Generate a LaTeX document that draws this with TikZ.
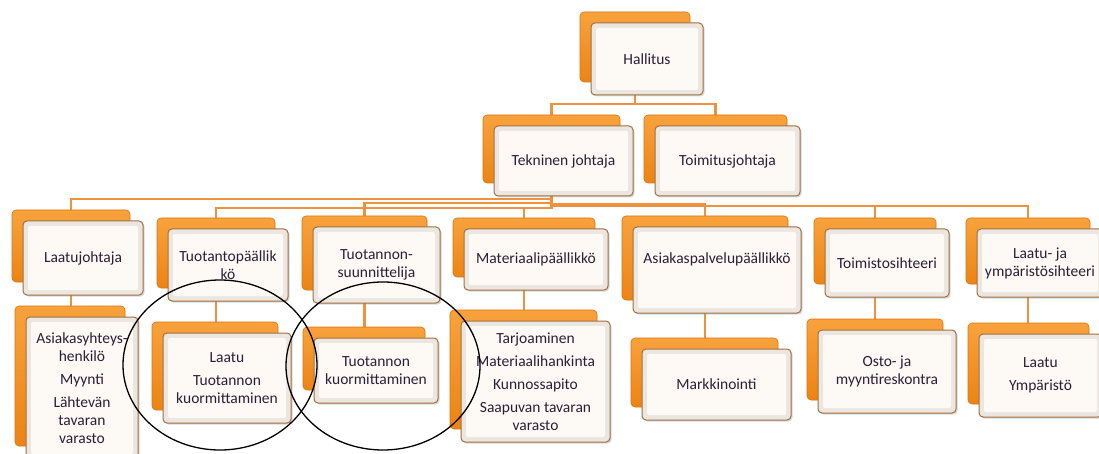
\documentclass[tikz,border=0pt]{standalone}
\usepackage{fontspec}
\setmainfont{Carlito}
\usetikzlibrary{backgrounds,shadows,shapes.geometric}

\definecolor{orgline}{HTML}{EE9240}
\definecolor{orangetop}{HTML}{F8A23C}
\definecolor{orangebot}{HTML}{EC8414}
\definecolor{orangeedge}{HTML}{DB7410}
\definecolor{cardedge}{HTML}{A0703F}
\definecolor{cardbevel}{HTML}{ECE6E1}
\definecolor{cardface}{HTML}{FDF9F5}
\definecolor{inktext}{HTML}{2A1F35}

\tikzset{
  backbox/.style={rectangle, rounded corners=4pt, draw=orangeedge, line width=0.6pt,
    top color=orangetop, bottom color=orangebot, inner sep=0pt},
  cardtext/.style={text=inktext, font=\fontsize{15.5}{18}\selectfont, align=center},
  frontbox/.style={rectangle, rounded corners=4pt, draw=cardedge, line width=1pt,
    fill=cardbevel, inner sep=0pt, cardtext,
    drop shadow={shadow xshift=1.5pt, shadow yshift=-1.5pt, opacity=0.3},
    path picture={\fill[cardface, rounded corners=2pt]
      ([shift={(5pt,-5pt)}]path picture bounding box.north west) rectangle
      ([shift={(-5pt,5pt)}]path picture bounding box.south east);}},
  conn/.style={draw=orgline, line width=2.2pt},
  focus/.style={ellipse, draw=black, line width=1.3pt, inner sep=0pt},
}

% orange card behind, cream card in front: name, x1, y1, x2, y2 (back card), text
\newcommand\orgpair[6]{%
  \node[backbox, minimum width={#4-#2}, minimum height={#5-#3}] (#1-b)
    at ({(#2+#4)/2},{(#3+#5)/2}) {};
  \node[frontbox, minimum width={#4-#2+2}, minimum height={#5-#3+2}] (#1)
    at ({(#2+#4)/2+12},{(#3+#5)/2+12}) {#6};
}

\begin{document}
\begin{tikzpicture}[x=1pt, y=-1pt]
\useasboundingbox (0,0) rectangle (1099,454);

% top levels
\orgpair{hal}{580}{12}{690}{82}{Hallitus}
\orgpair{tek}{483}{115}{620}{183}{Tekninen johtaja}
\orgpair{toi}{644}{115}{787}{183}{Toimitusjohtaja}

% third level
\orgpair{laa}{12}{210}{130}{282}{Laatujohtaja}
\orgpair{tpa}{157}{218}{275}{288}{Tuotantopäällik\\kö}
\orgpair{tsu}{302}{216}{427}{290}{Tuotannon-\\suunnittelija}
\orgpair{mat}{453}{218}{595}{277}{Materiaalipäällikkö}
\orgpair{asp}{622}{216}{788}{300}{}
\node[cardtext] (asp-t) at (717,259) {Asiakaspalvelupäällikkö};
\orgpair{tsi}{814}{218}{936}{284}{Toimistosihteeri}
\orgpair{lys}{966}{218}{1090}{284}{Laatu- ja\\ympäristösihteeri}

% fourth level
\orgpair{asy}{15}{306}{125}{446}{Asiakasyhteys-\\henkilö\\[5pt]Myynti\\[5pt]Lähtevän\\tavaran\\varasto}
\orgpair{lau}{152}{322}{278}{410}{Laatu\\[5pt]Tuotannon\\kuormittaminen}
\orgpair{tku}{303}{327}{425}{390}{Tuotannon\\kuormittaminen}
\orgpair{mli}{450}{310}{597}{429}{Tarjoaminen\\[5pt]Materiaalihankinta\\[5pt]Kunnossapito\\[5pt]Saapuvan tavaran\\varasto}
\orgpair{mar}{631}{338}{778}{407}{Markkinointi}
\orgpair{osm}{807}{319}{943}{400}{Osto- ja\\myyntireskontra}
\orgpair{lym}{968}{323}{1089}{404}{Laatu\\[5pt]Ympäristö}

% highlighted groups
\node[focus, minimum width=194pt, minimum height=170pt] (focusA) at (220,365) {};
\node[focus, minimum width=194pt, minimum height=168pt] (focusB) at (383,366) {};

\begin{pgfonlayer}{background}
  \fill[white] (0,0) rectangle (1099,454);
  % elbow connectors
  \draw[conn] (hal-b.south) -- ([yshift=-22pt]hal-b.south) -| (tek-b.north);
  \draw[conn] (hal-b.south) -- ([yshift=-22pt]hal-b.south) -| (toi-b.north);
  \draw[conn] (tek-b.south) -- ([yshift=-16pt]tek-b.south) -| (laa-b.north);
  \draw[conn] (tek-b.south) -- ([yshift=-25pt]tek-b.south) -| (tpa-b.north);
  \draw[conn] (tek-b.south) -- ([yshift=-20pt]tek-b.south) -| (tsu-b.north);
  \draw[conn] (tek-b.south) -- ([yshift=-25pt]tek-b.south) -| (mat-b.north);
  \draw[conn] (tek-b.south) -- ([yshift=-21pt]tek-b.south) -| (asp-b.north);
  \draw[conn] (tek-b.south) -- ([yshift=-23pt]tek-b.south) -| (tsi-b.north);
  \draw[conn] (tek-b.south) -- ([yshift=-23pt]tek-b.south) -| (lys-b.north);
  % straight drops
  \draw[conn] (laa-b.south) -- (laa-b.south |- asy-b.north);
  \draw[conn] (tpa-b.south) -- (tpa-b.south |- lau-b.north);
  \draw[conn] (tsu-b.south) -- (tsu-b.south |- tku-b.north);
  \draw[conn] (mat-b.south) -- (mat-b.south |- mli-b.north);
  \draw[conn] (asp-b.south) -- (asp-b.south |- mar-b.north);
  \draw[conn] (tsi-b.south) -- (tsi-b.south |- osm-b.north);
  \draw[conn] (lys-b.south) -- (lys-b.south |- lym-b.north);
\end{pgfonlayer}
\end{tikzpicture}
\end{document}
